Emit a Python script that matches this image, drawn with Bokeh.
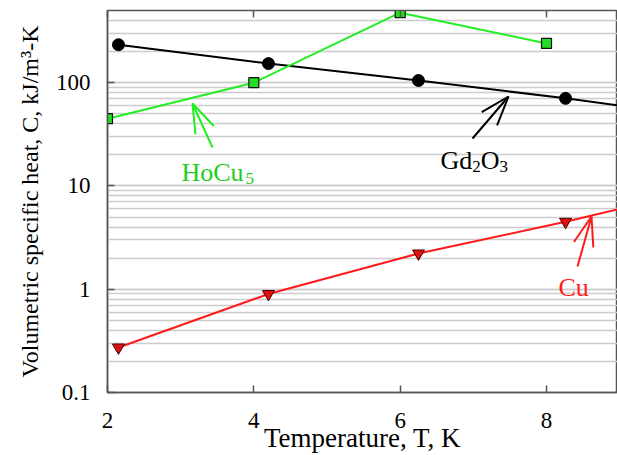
import math
from bokeh.plotting import figure
from bokeh.models import Range1d, FixedTicker, LinearAxis, Label, Arrow, CustomJSTickFormatter
from bokeh.embed import file_html
from bokeh.resources import INLINE

# ---------------- data ----------------
gd_T = [2.15, 4.2, 6.25, 8.26]
gd_C = [233, 153, 105, 70.5]
gd_line_T = [2.15, 4.2, 6.25, 8.26, 9.0]
gd_line_C = [233, 153, 105, 70.5, 60]

ho_T = [2, 4, 6, 8]
ho_C = [44.8, 100, 476, 240]

cu_T = [2.15, 4.2, 6.25, 8.26]
cu_C = [0.273, 0.9, 2.22, 4.5]
cu_line_T = [2.15, 4.2, 6.25, 8.26, 9.0]
cu_line_C = [0.273, 0.9, 2.22, 4.5, 6.0]

x_ticks = [2, 4, 6, 8]
y_ticks = [0.1, 1, 10, 100]
y_minor = [m * 10.0 ** e for e in (-1, 0, 1, 2) for m in range(1, 10) if m * 10.0 ** e <= 500]

x_title = "Temperature, T, K"
y_title = "Volumetric specific heat, C, kJ/m\u00b3-K"

# ---------------- layout ----------------
W, H = 617, 455
FL, FT, FB = 107, 10, 392
XMIN, XMAX = 2.0, 8.97
YMIN, YMAX = 0.1, 500.0
ppu = (W - FL) / (XMAX - XMIN)
ppd = (FB - FT) / (math.log10(YMAX) - math.log10(YMIN))


def dx(px):
    return XMIN + (px - FL) / ppu


def dy(py):
    return 10 ** (math.log10(YMAX) - (py - FT) / ppd)


REG = {'H': 722, 'o': 500, 'C': 667, 'u': 500, 'G': 722, 'd': 500, 'O': 722, '2': 500}


def tw(s, size):
    return sum(REG.get(ch, 500) for ch in s) * size / 1000.0


FONT = "Liberation Serif"

p = figure(width=W, height=H, y_axis_type="log", output_backend="svg",
           toolbar_location=None, x_range=Range1d(XMIN, XMAX), y_range=Range1d(YMIN, YMAX),
           min_border_left=FL, min_border_right=0, min_border_top=FT,
           min_border_bottom=H - FB)
p.background_fill_color = "white"
p.border_fill_color = "white"
p.outline_line_color = "#555555"
p.outline_line_width = 1.5

xa = p.xaxis[0]
xa.ticker = FixedTicker(ticks=x_ticks)
ya = p.yaxis[0]
ya.ticker = FixedTicker(ticks=y_ticks, minor_ticks=y_minor)
ya.formatter = CustomJSTickFormatter(code="return tick >= 1 ? tick.toFixed(0) : tick.toString();")
for ax in (xa, ya):
    ax.axis_line_color = "#555555"
    ax.axis_line_width = 1.5
    ax.major_tick_line_color = "#555555"
    ax.major_tick_line_width = 1.5
    ax.major_tick_in = 7
    ax.major_tick_out = 0
    ax.minor_tick_line_color = None
    ax.major_label_text_font = FONT
    ax.major_label_text_font_size = "23px"
    ax.major_label_text_color = "black"
    ax.axis_label_text_font = FONT
    ax.axis_label_text_font_style = "normal"
    ax.axis_label_text_color = "black"
xa.major_label_standoff = 20
ya.major_label_standoff = 13
xa.axis_label = x_title
xa.axis_label_text_font_size = "27px"
xa.axis_label_standoff = -8
ya.axis_label = y_title
ya.axis_label_text_font_size = "24px"
ya.axis_label_standoff = 10

top = LinearAxis(ticker=FixedTicker(ticks=x_ticks),
                 formatter=CustomJSTickFormatter(code="return '';"),
                 major_label_standoff=0, major_tick_in=7, major_tick_out=0,
                 minor_tick_line_color=None, axis_line_color="#555555",
                 major_tick_line_color="#555555", major_tick_line_width=1.5)
p.add_layout(top, "above")

p.xgrid.grid_line_color = None
p.ygrid.ticker = FixedTicker(ticks=y_ticks, minor_ticks=y_minor)
p.ygrid.grid_line_color = "#cccccc"
p.ygrid.grid_line_width = 1.7
p.ygrid.minor_grid_line_color = "#cccccc"
p.ygrid.minor_grid_line_width = 1.7

GREEN = "#22ee22"
RED = "#ff1a1a"

p.line(gd_line_T, gd_line_C, line_color="black", line_width=2)
p.line(ho_T, ho_C, line_color=GREEN, line_width=2)
p.line(cu_line_T, cu_line_C, line_color=RED, line_width=2)
p.scatter(gd_T, gd_C, marker="circle", size=12, fill_color="black", line_color="black")
p.scatter(ho_T, ho_C, marker="square", size=10, fill_color="#22dd22", line_color="#111111", line_width=1.2)
p.scatter(cu_T, cu_C, marker="inverted_triangle", size=12, fill_color="#e01010", line_color="#440000", line_width=1)


def seg(a, b, color):
    p.add_layout(Arrow(end=None, x_start=dx(a[0]), y_start=dy(a[1]),
                       x_end=dx(b[0]), y_end=dy(b[1]), line_color=color, line_width=2))


def arrow(tail, tip, color, hl=31, ang=19):
    seg(tail, tip, color)
    vx, vy = tail[0] - tip[0], tail[1] - tip[1]
    n = math.hypot(vx, vy)
    vx, vy = vx / n, vy / n
    for s in (-1, 1):
        a = math.radians(ang) * s
        hx = vx * math.cos(a) - vy * math.sin(a)
        hy = vx * math.sin(a) + vy * math.cos(a)
        seg(tip, (tip[0] + hl * hx, tip[1] + hl * hy), color)


arrow((212, 147), (192, 103), GREEN)
arrow((472, 138), (508, 96), "black")
arrow((577, 266), (591, 216), RED)


def label(text, px, py, size, color="black"):
    p.add_layout(Label(x=dx(px), y=dy(py), text=text, text_font=FONT,
                       text_font_size=f"{size}px", text_color=color,
                       text_baseline="alphabetic", text_align="left"))


AS, SS = 26, 17
x0 = 181
label("HoCu", x0, 172, AS, "#22cc22")
label("5", x0 + tw("HoCu", AS) + 2, 178, SS, "#22cc22")

x0 = 440
label("Gd", x0, 160, AS)
x0 += tw("Gd", AS)
label("2", x0, 166, SS)
x0 += tw("2", SS)
label("O", x0, 160, AS)
x0 += tw("O", AS)
label("3", x0, 166, SS)

label("Cu", 558, 287, AS, RED)

open("out.html", "w").write(file_html(p, INLINE))
